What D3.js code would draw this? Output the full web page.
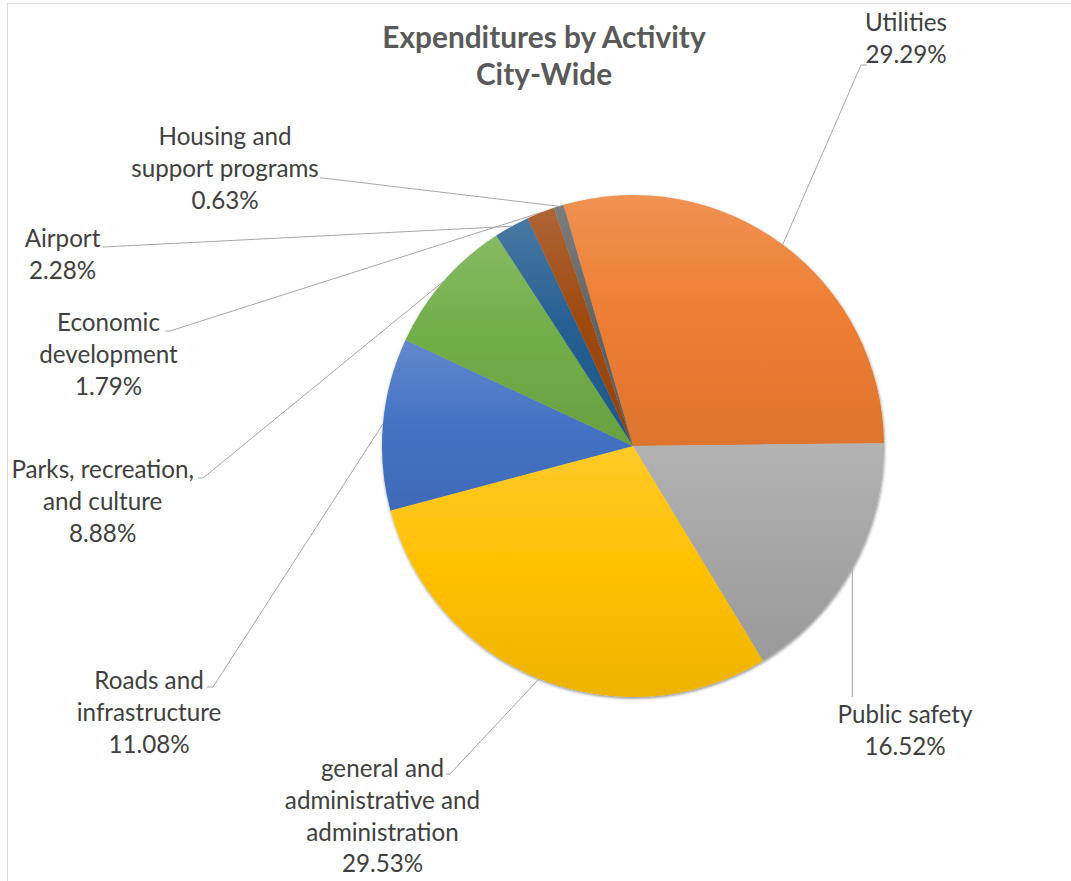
<!DOCTYPE html>
<html>
<head>
<meta charset="utf-8">
<script src="https://cdn.jsdelivr.net/npm/d3@7"></script>
<style>
  html, body { margin: 0; padding: 0; background: #ffffff; }
  svg { display: block; }
</style>
</head>
<body>
<svg id="chart" width="1071" height="881"></svg>
<script>
// Expenditure shares by activity (percent of city-wide total)
const categories = [
  "Utilities",
  "Public safety",
  "general and administrative and administration",
  "Roads and infrastructure",
  "Parks, recreation, and culture",
  "Airport",
  "Economic development",
  "Housing and support programs"
];
const shares = [29.29, 16.52, 29.53, 11.08, 8.88, 2.28, 1.79, 0.63];
const labelLines = [
  ["Utilities"],
  ["Public safety"],
  ["general and", "administrative and", "administration"],
  ["Roads and", "infrastructure"],
  ["Parks, recreation,", "and culture"],
  ["Airport"],
  ["Economic", "development"],
  ["Housing and", "support programs"]
];
const sliceColors = ["#ED7D31", "#A5A5A5", "#FFC000", "#4472C4", "#70AD47", "#255E91", "#9E480E", "#636363"];
const titleLines = ["Expenditures by Activity", "City-Wide"];

// ---- layout ----
const W = 1071, H = 881;
const cx = 633, cy = 446, R = 251;
const firstSliceAngle = -16.1 * Math.PI / 180;
const lineH = 31.8;
const labelFont = "Lato, 'Open Sans', sans-serif";

// label block placement: x = centre of text, y = first baseline; leader = bend points from label side
const labelLayout = [
  { x: 906,   y: 31,  leader: [[861, 65], [867, 65]] },
  { x: 905,   y: 723, leader: [[null, 697]] },
  { x: 382.5, y: 777, leader: [[450, 774], [446, 774]] },
  { x: 149,   y: 689, leader: [[213, 687], [207, 687]] },
  { x: 102.7, y: 478, leader: [[203, 478], [198, 478]] },
  { x: 62.5,  y: 247, leader: [[103, 247]] },
  { x: 108.5, y: 331, leader: [[170, 331], [165, 331]] },
  { x: 225,   y: 145, leader: [[323, 178], [320, 178]] }
];

const svg = d3.select("#chart");

// chart-area frame
svg.append("rect")
  .attr("x", 7.5).attr("y", 3.5)
  .attr("width", W + 20).attr("height", H + 20)
  .attr("fill", "none")
  .attr("stroke", "#D9D9D9")
  .attr("stroke-width", 1);

const defs = svg.append("defs");

// soft outer shadow around the pie
const shadow = defs.append("filter")
  .attr("id", "pieShadow")
  .attr("x", "-10%").attr("y", "-10%")
  .attr("width", "120%").attr("height", "120%");
shadow.append("feDropShadow")
  .attr("dx", 0.5).attr("dy", 1.5)
  .attr("stdDeviation", 1.8)
  .attr("flood-color", "#000")
  .attr("flood-opacity", 0.45);

// vertical gradient per slice: lighter top, darker bottom
sliceColors.forEach((c, i) => {
  const g = defs.append("linearGradient")
    .attr("id", "grad" + i)
    .attr("x1", 0).attr("y1", 0).attr("x2", 0).attr("y2", 1);
  g.append("stop").attr("offset", "0%").attr("stop-color", d3.interpolateRgb(c, "#ffffff")(0.16));
  g.append("stop").attr("offset", "50%").attr("stop-color", c);
  g.append("stop").attr("offset", "100%").attr("stop-color", d3.rgb(c).darker(0.2).formatHex());
});

const pie = d3.pie()
  .sort(null)
  .value(d => d)
  .startAngle(firstSliceAngle)
  .endAngle(firstSliceAngle + 2 * Math.PI);

const arcs = pie(shares);
const arc = d3.arc().innerRadius(0).outerRadius(R);
const edgeArc = d3.arc().innerRadius(R).outerRadius(R);

const pieG = svg.append("g")
  .attr("transform", `translate(${cx},${cy})`)
  .attr("filter", "url(#pieShadow)");

pieG.selectAll("path.slice")
  .data(arcs)
  .join("path")
  .attr("class", "slice")
  .attr("d", arc)
  .attr("fill", (d, i) => `url(#grad${i})`);

// leader lines from each slice's outer midpoint to its label
const lineG = svg.append("g")
  .attr("fill", "none")
  .attr("stroke", "#A6A6A6")
  .attr("stroke-width", 1);

arcs.forEach((d, i) => {
  const [ex, ey] = edgeArc.centroid(d);
  const start = [cx + ex, cy + ey];
  const pts = [start].concat(labelLayout[i].leader.map(p => [p[0] === null ? start[0] : p[0], p[1]]));
  lineG.append("path")
    .attr("d", d3.line()(pts));
});

// data labels: category name + percentage
const fmt = d3.format(".2f");
const labelG = svg.append("g")
  .attr("font-family", labelFont)
  .attr("font-size", 24.2)
  .attr("fill", "#404040")
  .attr("text-anchor", "middle");

arcs.forEach((d, i) => {
  const lines = labelLines[i].concat([fmt(shares[i]) + "%"]);
  const L = labelLayout[i];
  const t = labelG.append("text").attr("x", L.x).attr("y", L.y);
  lines.forEach((s, k) => {
    t.append("tspan")
      .attr("x", L.x)
      .attr("y", L.y + k * lineH)
      .text(s);
  });
});

// title
const titleG = svg.append("text")
  .attr("font-family", labelFont)
  .attr("font-weight", 700)
  .attr("font-size", 29.8)
  .attr("fill", "#595959")
  .attr("text-anchor", "middle");
titleLines.forEach((s, k) => {
  titleG.append("tspan")
    .attr("x", 544)
    .attr("y", 48 + k * 36.5)
    .text(s);
});
</script>
</body>
</html>
